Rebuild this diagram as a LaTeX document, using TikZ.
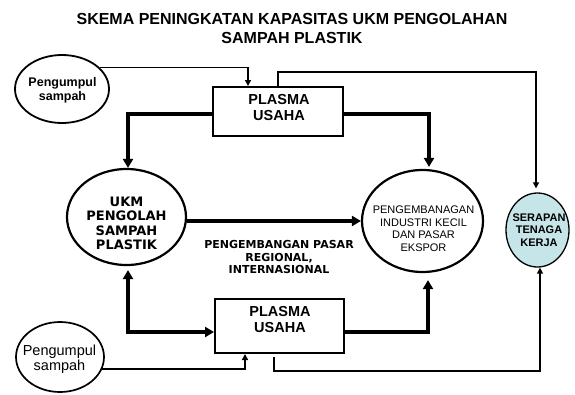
\documentclass[tikz,border=0pt]{standalone}
\usepackage{fontspec}
\setmainfont{Liberation Sans}
\newfontfamily\verdfont{DejaVu Sans}
\usetikzlibrary{shapes.geometric,arrows.meta}
\definecolor{serapan}{HTML}{C6E5E8}
\begin{document}
\begin{tikzpicture}[x=1pt,y=-1pt,
  ell/.style={draw, ellipse, inner sep=0pt},
  boxnode/.style={draw, rectangle, line width=2pt, inner sep=0pt},
  txt/.style={align=center, inner sep=0pt},
  thinarr/.style={line width=1.5pt, -{Triangle[length=6pt,width=6pt]}},
  thickarr/.style={line width=3.2pt, -{Triangle[length=9pt,width=10pt]}},
  thickboth/.style={line width=3.2pt, {Triangle[length=9pt,width=10pt]}-{Triangle[length=9pt,width=10pt]}},
]
\fill[white] (0,0) rectangle (575,394);
\useasboundingbox (0,0) rectangle (575,394);

\node[txt, font=\fontsize{16}{19}\selectfont\bfseries] (title) at (292,28.5)
  {SKEMA PENINGKATAN KAPASITAS UKM PENGOLAHAN\\SAMPAH PLASTIK};

% shapes
\node[ell, line width=1.8pt, minimum width=94pt, minimum height=68pt] (tl) at (62,89) {};
\node[txt, font=\fontsize{12.5}{14}\selectfont\bfseries] (tltext) at (62.5,90) {Pengumpul\\sampah};

\node[boxnode, minimum width=130pt, minimum height=49pt] (pt) at (278,111.5) {};
\node[txt, font=\fontsize{14.5}{16}\selectfont\bfseries] (pttext) at (279,107.5) {PLASMA\\USAHA};

\node[ell, line width=2.2pt, minimum width=119pt, minimum height=96pt] (ukm) at (126.5,217) {};
\node[txt, font=\verdfont\fontsize{13}{14.5}\selectfont\bfseries] (ukmtext) at (126.5,223.5)
  {UKM\\PENGOLAH\\SAMPAH\\PLASTIK};

\node[ell, line width=2.2pt, minimum width=121pt, minimum height=102pt] (pe) at (422.5,221) {};
\node[txt, font=\fontsize{11}{12.5}\selectfont] (petext) at (423.5,228.5)
  {PENGEMBANAGAN\\INDUSTRI KECIL\\DAN PASAR\\EKSPOR};

\node[ell, line width=1.3pt, fill=serapan, minimum width=63pt, minimum height=74pt] (sr) at (537.5,230) {};
\node[txt, font=\fontsize{11}{12.5}\selectfont\bfseries] (srtext) at (539,230)
  {SERAPAN\\TENAGA\\KERJA};

\node[txt, font=\verdfont\fontsize{11}{12.5}\selectfont\bfseries] (label) at (279,257)
  {PENGEMBANGAN PASAR\\REGIONAL,\\INTERNASIONAL};

\node[boxnode, minimum width=129pt, minimum height=54pt] (pb) at (279.5,326) {};
\node[txt, font=\fontsize{14.5}{16}\selectfont\bfseries] (pbtext) at (280,320) {PLASMA\\USAHA};

\node[ell, line width=1.7pt, minimum width=88pt, minimum height=70pt] (bl) at (60,357) {};
\node[txt, font=\fontsize{14.5}{14.5}\selectfont] (bltext) at (59.5,359) {Pengumpul\\sampah};

% connectors
\draw[thinarr] (tl.30) -| ([xshift=36pt]pt.north west);
\draw[thickarr] ([yshift=-2.5pt]pt.west) -| ([xshift=1.5pt]ukm.north);
\draw[thickarr, shorten >=2pt] ([yshift=-2.5pt]pt.east) -| ([xshift=6.5pt]pe.north);
\draw[thinarr, shorten >=4pt] (pt.north) -- ++(0,-14) -| ([xshift=-1.5pt]sr.north);
\draw[thickarr] (ukm.east |- pe.west) -- (pe.west);
\draw[thickboth, shorten <=4pt] ([xshift=1.5pt]ukm.south) |- ([yshift=-6pt]pb.west);
\draw[thickarr, shorten >=7pt] ([yshift=-6pt]pb.east) -| ([xshift=5.5pt]pe.south);
\draw[thinarr] (bl.-16) -| ([xshift=31pt]pb.south west);
\draw[thinarr] ([xshift=-5.5pt,yshift=-3pt]pb.south) -- ++(0,14) -| ([xshift=2.5pt]sr.south);
\end{tikzpicture}
\end{document}
